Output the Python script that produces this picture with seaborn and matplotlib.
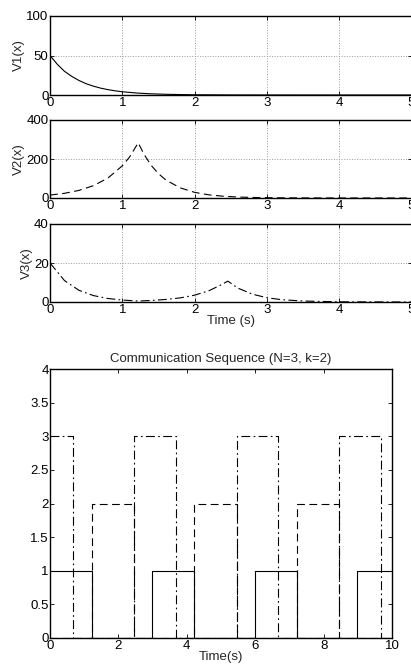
import numpy as np
import pandas as pd
import matplotlib
matplotlib.use("Agg")
import matplotlib.pyplot as plt
from matplotlib.ticker import FuncFormatter
import seaborn as sns

# values
t1 = [0, 0.1, 0.2, 0.3, 0.4, 0.5, 0.6, 0.7, 0.8, 0.9, 1.0, 1.2, 1.4, 1.6, 1.8, 2.0, 2.5, 3, 4, 5]
v1 = [50, 39, 30, 23.6, 18.4, 14.3, 11.2, 8.7, 6.8, 5.3, 4.1, 2.5, 1.5, 0.9, 0.55, 0.3, 0.1, 0.05, 0, 0]

t2 = [0, 0.2, 0.4, 0.6, 0.8, 1.0, 1.1, 1.22, 1.3, 1.4, 1.5, 1.6, 1.8, 2.0, 2.2, 2.4, 2.6, 2.8, 3.0, 3.2, 3.5, 4, 5]
v2 = [15, 24, 39, 63, 102, 165, 210, 283, 224, 167, 125, 93, 52, 29, 16, 9, 5, 2.8, 1.6, 0.9, 0.4, 0.1, 0]

t3 = [0, 0.2, 0.4, 0.6, 0.8, 1.0, 1.22, 1.4, 1.6, 1.8, 2.0, 2.2, 2.35, 2.46, 2.6, 2.8, 3.0, 3.2, 3.5, 4, 5]
v3 = [20, 11, 6.0, 3.3, 1.8, 1.0, 0.5, 0.78, 1.3, 2.1, 3.5, 5.8, 8.5, 10.7, 7.1, 4.0, 2.2, 1.2, 0.5, 0.1, 0]

# communication sequence (step edges)
s1_t = [0, 1.22, 2.99, 4.21, 5.99, 7.21, 8.99, 10]
s1_v = [1, 0, 1, 0, 1, 0, 1, 1]
s2_t = [0, 1.22, 2.46, 4.21, 5.46, 7.21, 8.45, 10]
s2_v = [0, 2, 0, 2, 0, 2, 0, 0]
s3_t = [0, 0.68, 2.46, 3.68, 5.46, 6.68, 8.45, 9.68, 10]
s3_v = [3, 0, 3, 0, 3, 0, 3, 0, 0]

DASH = (0, (7, 4))
DASHDOT = (0, (8, 3, 1.5, 3))

sns.set_style("ticks")
plt.rcParams['font.family'] = ['Liberation Sans', 'DejaVu Sans']
plt.rcParams['font.size'] = 9.5
plt.rcParams['xtick.direction'] = 'in'
plt.rcParams['ytick.direction'] = 'in'
plt.rcParams['xtick.top'] = True
plt.rcParams['ytick.right'] = True
plt.rcParams['xtick.major.size'] = 3
plt.rcParams['ytick.major.size'] = 3
plt.rcParams['xtick.major.pad'] = 1.5
plt.rcParams['ytick.major.pad'] = 1

fig = plt.figure(figsize=(4.11, 6.67), dpi=100)
W, H = 411, 667

def box(l, t, r, b):
    return [l / W, 1 - b / H, (r - l) / W, (b - t) / H]

fmt = FuncFormatter(lambda v, p: '%g' % v)

top = [
    (box(50, 16, 411.5, 95), t1, v1, '-', 'V1(x)', [0, 50, 100]),
    (box(50, 120, 411.5, 198), t2, v2, DASH, 'V2(x)', [0, 200, 400]),
    (box(50, 224, 411.5, 302), t3, v3, DASHDOT, 'V3(x)', [0, 20, 40]),
]
for pos, t, v, ls, lab, yt in top:
    ax = fig.add_axes(pos)
    sns.lineplot(x=t, y=v, ax=ax, color='black', linestyle=ls, linewidth=0.8)
    ax.set_xlim(0, 5)
    ax.set_ylim(yt[0], yt[-1])
    ax.set_xticks([0, 1, 2, 3, 4, 5])
    ax.set_yticks(yt)
    ax.yaxis.set_major_formatter(fmt)
    ax.grid(True, linestyle=':', color='#999999', linewidth=0.7)
    ax.set_ylabel(lab, labelpad=1)
    for s in ax.spines.values():
        s.set_linewidth(1.0)
        s.set_color('black')
    ax.tick_params(colors='black', width=0.6, labelsize=9.5)
ax.set_xlabel('Time (s)', labelpad=-1)

ax = fig.add_axes(box(50, 369, 392, 638))
sns.lineplot(x=s1_t, y=s1_v, ax=ax, color='black', linestyle='-', linewidth=0.8, drawstyle='steps-post')
sns.lineplot(x=s2_t, y=s2_v, ax=ax, color='black', linestyle=DASH, linewidth=0.8, drawstyle='steps-post')
sns.lineplot(x=s3_t, y=s3_v, ax=ax, color='black', linestyle=DASHDOT, linewidth=0.8, drawstyle='steps-post')
ax.set_xlim(0, 10)
ax.set_ylim(0, 4)
ax.set_xticks([0, 2, 4, 6, 8, 10])
ax.set_yticks(np.arange(0, 4.01, 0.5))
ax.yaxis.set_major_formatter(fmt)
ax.set_title('Communication Sequence (N=3, k=2)', fontsize=9.5, pad=5)
ax.set_xlabel('Time(s)', labelpad=-1)
for s in ax.spines.values():
    s.set_linewidth(1.0)
    s.set_color('black')
ax.tick_params(colors='black', width=0.6, labelsize=9.5)

fig.savefig('out.png', dpi=100)
